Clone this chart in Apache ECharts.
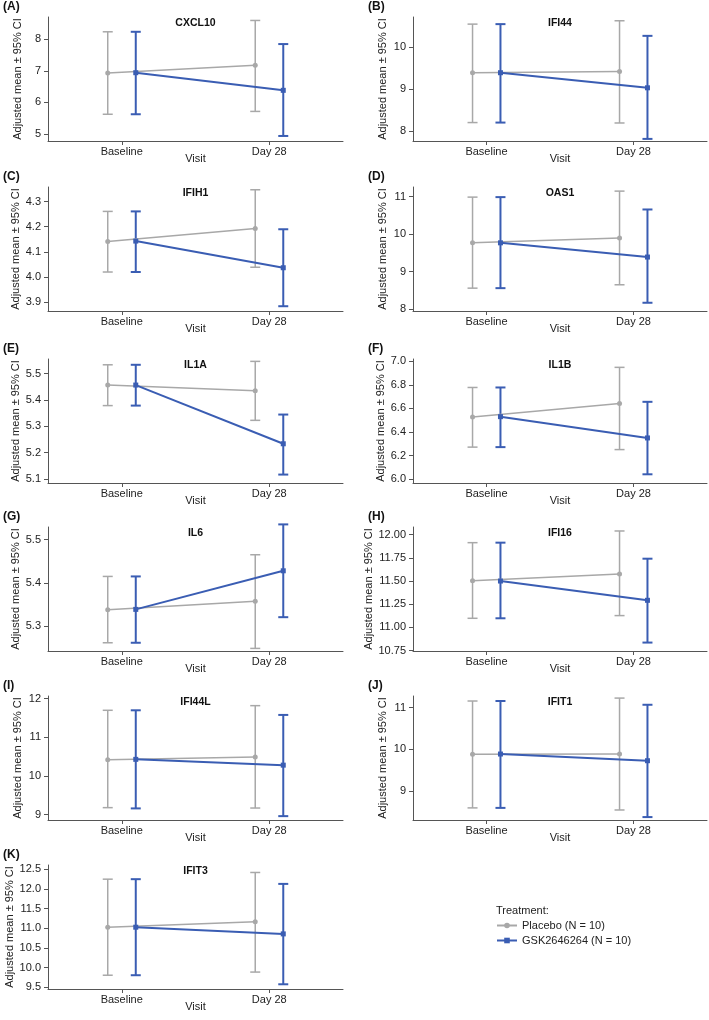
<!DOCTYPE html>
<html>
<head>
<meta charset="utf-8">
<script src="https://cdn.jsdelivr.net/npm/echarts@6/dist/echarts.min.js"></script>
<style>
html, body { margin: 0; padding: 0; background: #fff; }
#main { width: 709px; height: 1020px; }
</style>
</head>
<body>
<div id="main"></div>
<script>
// data
var visits = ['Baseline', 'Day 28'];
var genes = ['CXCL10', 'IFI44', 'IFIH1', 'OAS1', 'IL1A', 'IL1B', 'IL6', 'IFI16', 'IFI44L', 'IFIT1', 'IFIT3'];
var letters = ['(A)', '(B)', '(C)', '(D)', '(E)', '(F)', '(G)', '(H)', '(I)', '(J)', '(K)'];
var seriesNames = ['Placebo (N = 10)', 'GSK2646264 (N = 10)'];

// [Baseline, Day 28] per gene
var placeboMean = [[6.93, 7.18], [9.39, 9.42], [4.141, 4.193], [9.77, 9.90], [5.457, 5.435], [6.527, 6.641],
  [5.338, 5.358], [11.504, 11.576], [10.42, 10.49], [9.887, 9.89], [11.03, 11.17]];
var placeboLow = [[5.62, 5.71], [8.20, 8.19], [4.020, 4.039], [8.56, 8.65], [5.379, 5.323], [6.271, 6.25],
  [5.262, 5.249], [11.098, 11.127], [9.18, 9.17], [8.60, 8.55], [9.81, 9.89]];
var placeboHigh = [[8.24, 8.60], [10.55, 10.63], [4.261, 4.347], [10.99, 11.15], [5.534, 5.547], [6.778, 6.949],
  [5.415, 5.465], [11.914, 12.04], [11.70, 11.82], [11.16, 11.23], [12.25, 12.42]];
var gskMean = [[6.94, 6.38], [9.39, 9.03], [4.143, 4.037], [9.77, 9.39], [5.457, 5.234], [6.530, 6.349],
  [5.339, 5.428], [11.50, 11.292], [10.43, 10.28], [9.89, 9.73], [11.03, 10.86]];
var gskLow = [[5.62, 4.93], [8.20, 7.81], [4.020, 3.884], [8.56, 8.17], [5.379, 5.117], [6.271, 6.040],
  [5.262, 5.321], [11.098, 10.836], [9.16, 8.96], [8.60, 8.38], [9.81, 9.58]];
var gskHigh = [[8.24, 7.85], [10.55, 10.27], [4.261, 4.190], [10.99, 10.66], [5.534, 5.345], [6.778, 6.656],
  [5.415, 5.535], [11.914, 11.741], [11.70, 11.58], [11.16, 11.07], [12.25, 12.13]];

// y axis extents and tick labels
var yMin = [4.77, 7.76, 3.865, 7.95, 5.085, 5.966, 5.243, 10.745, 8.86, 8.31, 9.46];
var yMax = [8.71, 10.72, 4.358, 11.26, 5.556, 7.02, 5.529, 12.083, 12.07, 11.28, 12.61];
var yTicks = [
  [5, 6, 7, 8],
  [8, 9, 10],
  [3.9, 4.0, 4.1, 4.2, 4.3],
  [8, 9, 10, 11],
  [5.1, 5.2, 5.3, 5.4, 5.5],
  [6.0, 6.2, 6.4, 6.6, 6.8, 7.0],
  [5.3, 5.4, 5.5],
  [10.75, 11.00, 11.25, 11.50, 11.75, 12.00],
  [9, 10, 11, 12],
  [9, 10, 11],
  [9.5, 10.0, 10.5, 11.0, 11.5, 12.0, 12.5]
];
var yDigits = [0, 0, 1, 0, 1, 1, 1, 2, 0, 0, 1];

var FONT = '"Liberation Sans", Arial, Helvetica, sans-serif';
var GRAY = '#a8a8a8';
var BLUE = '#3a5db3';
var AXIS = '#555555';
var DODGE = 0.095;

var colLeft = [48, 413];
var colWidth = [295, 294];
var rowTop = [17, 187, 359, 527, 696, 865];
var gridHeight = 124;

var myChart = echarts.init(document.getElementById('main'));

function errorBars(name, color, width, xi, data) {
  return {
    type: 'custom',
    name: name,
    xAxisIndex: xi,
    yAxisIndex: xi,
    data: data,
    encode: { x: 0, y: [1, 2] },
    silent: true,
    renderItem: function (params, api) {
      var x = api.value(0);
      var lo = api.coord([x, api.value(1)]);
      var hi = api.coord([x, api.value(2)]);
      var cap = 5;
      var st = { stroke: color, lineWidth: width };
      return {
        type: 'group',
        children: [
          { type: 'line', shape: { x1: lo[0], y1: lo[1], x2: hi[0], y2: hi[1] }, style: st },
          { type: 'line', shape: { x1: hi[0] - cap, y1: hi[1], x2: hi[0] + cap, y2: hi[1] }, style: st },
          { type: 'line', shape: { x1: lo[0] - cap, y1: lo[1], x2: lo[0] + cap, y2: lo[1] }, style: st }
        ]
      };
    }
  };
}

var grids = [], xAxes = [], yAxes = [], series = [], graphics = [];

genes.forEach(function (gene, i) {
  var col = i % 2, row = Math.floor(i / 2);
  var left = colLeft[col], top = rowTop[row], w = colWidth[col];
  grids.push({ left: left, top: top, width: w, height: gridHeight });

  xAxes.push({
    gridIndex: i, type: 'value', min: 0, max: 2,
    name: 'Visit', nameLocation: 'middle', nameGap: 12, nameMoveOverlap: false,
    nameTextStyle: { fontSize: 11, color: '#222', fontFamily: FONT },
    axisLine: { show: true, onZero: false, lineStyle: { color: AXIS, width: 1 } },
    axisTick: { show: true, length: 4, customValues: [0.5, 1.5], lineStyle: { color: AXIS } },
    axisLabel: {
      customValues: [0.5, 1.5], margin: 5, fontSize: 11, color: '#222', fontFamily: FONT,
      formatter: function (v) { return visits[Math.round(v - 0.5)]; }
    },
    splitLine: { show: false }
  });

  var digits = yDigits[i];
  yAxes.push({
    gridIndex: i, type: 'value', min: yMin[i], max: yMax[i],
    name: 'Adjusted mean \u00b1 95% CI', nameLocation: 'middle', nameGap: 25,
    nameTextStyle: { fontSize: 11, color: '#222', fontFamily: FONT },
    axisLine: { show: true, lineStyle: { color: AXIS, width: 1 } },
    axisTick: { show: true, length: 4, customValues: yTicks[i], lineStyle: { color: AXIS } },
    axisLabel: {
      customValues: yTicks[i], margin: 7, fontSize: 11, color: '#222', fontFamily: FONT,
      formatter: function (v) { return v.toFixed(digits); }
    },
    splitLine: { show: false }
  });

  var pData = [], pBars = [], gData = [], gBars = [];
  for (var k = 0; k < visits.length; k++) {
    var xp = k + 0.5 - DODGE, xg = k + 0.5 + DODGE;
    pData.push([xp, placeboMean[i][k]]);
    pBars.push([xp, placeboLow[i][k], placeboHigh[i][k]]);
    gData.push([xg, gskMean[i][k]]);
    gBars.push([xg, gskLow[i][k], gskHigh[i][k]]);
  }

  series.push(errorBars(seriesNames[0] + ' CI', GRAY, 1.5, i, pBars));
  series.push({
    type: 'line', name: seriesNames[0], xAxisIndex: i, yAxisIndex: i, data: pData,
    symbol: 'circle', symbolSize: 5, color: GRAY,
    lineStyle: { color: GRAY, width: 1.5 }, itemStyle: { color: GRAY }
  });
  series.push(errorBars(seriesNames[1] + ' CI', BLUE, 2, i, gBars));
  series.push({
    type: 'line', name: seriesNames[1], xAxisIndex: i, yAxisIndex: i, data: gData,
    symbol: 'rect', symbolSize: 5, color: BLUE,
    lineStyle: { color: BLUE, width: 2 }, itemStyle: { color: BLUE }
  });

  graphics.push({
    type: 'text', x: left + w / 2, y: top + 6,
    style: { text: gene, font: 'bold 10.5px ' + FONT, fill: '#111', textAlign: 'center', textVerticalAlign: 'middle' }
  });
  graphics.push({
    type: 'text', x: left - 45, y: top - 10,
    style: { text: letters[i], font: 'bold 12px ' + FONT, fill: '#111', textAlign: 'left', textVerticalAlign: 'middle' }
  });
});

graphics.push({
  type: 'text', x: 496, y: 911,
  style: { text: 'Treatment:', font: '11px ' + FONT, fill: '#222', textAlign: 'left', textVerticalAlign: 'middle' }
});

var option = {
  animation: false,
  grid: grids,
  xAxis: xAxes,
  yAxis: yAxes,
  legend: {
    left: 496, top: 920, orient: 'vertical', padding: 0,
    itemWidth: 20, itemHeight: 7, itemGap: 4, selectedMode: false,
    textStyle: { fontSize: 11, color: '#222', fontFamily: FONT },
    data: seriesNames
  },
  graphic: graphics,
  series: series
};

myChart.setOption(option);
</script>
</body>
</html>
